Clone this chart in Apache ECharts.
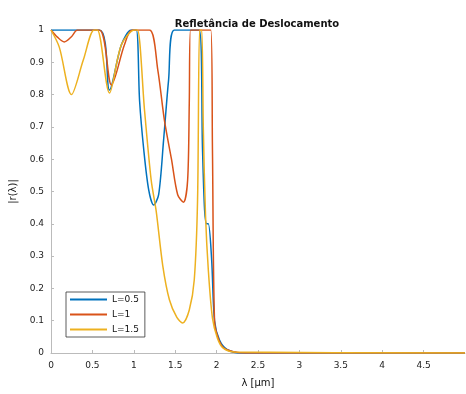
<!DOCTYPE html>
<html>
<head>
<meta charset="utf-8">
<script src="https://cdn.jsdelivr.net/npm/echarts@6/dist/echarts.min.js"></script>
<style>html,body{margin:0;padding:0;background:#fff;}#c{width:466px;height:394px;}</style>
</head>
<body>
<div id="c"></div>
<script>
// ---- data ----
var seriesNames = ['L=0.5', 'L=1', 'L=1.5'];
var xTicks = [0, 0.5, 1, 1.5, 2, 2.5, 3, 3.5, 4, 4.5, 5];
var yTicks = [0, 0.1, 0.2, 0.3, 0.4, 0.5, 0.6, 0.7, 0.8, 0.9, 1];

var lambdaBlue = [0, 0.585, 0.706, 0.85, 0.97, 1.03, 1.07, 1.12, 1.18, 1.24, 1.30, 1.36, 1.42, 1.49, 1.79, 1.83, 1.855, 1.88, 1.90, 1.94, 1.975, 2.035, 2.13, 2.3, 5];
var rBlue      = [1, 1, 0.814, 0.954, 1, 1, 0.78, 0.63, 0.505, 0.458, 0.49, 0.66, 0.845, 1, 1, 0.63, 0.443, 0.40, 0.40, 0.29, 0.10, 0.04, 0.01, 0, 0];

var lambdaOrange = [0, 0.077, 0.16, 0.25, 0.32, 0.585, 0.73, 0.887, 0.98, 1.19, 1.29, 1.37, 1.455, 1.53, 1.60, 1.65, 1.67, 1.685, 1.93, 1.95, 1.975, 2.02, 2.09, 2.22, 2.35, 5];
var rOrange      = [1, 0.978, 0.963, 0.98, 1, 1, 0.83, 0.954, 1, 1, 0.876, 0.72, 0.6, 0.49, 0.467, 0.535, 0.774, 1, 1, 0.63, 0.10, 0.046, 0.015, 0.003, 0, 0];

var lambdaYellow = [0, 0.10, 0.247, 0.39, 0.52, 0.56, 0.706, 0.85, 1.01, 1.044, 1.13, 1.21, 1.27, 1.35, 1.43, 1.52, 1.59, 1.67, 1.73, 1.77, 1.795, 1.82, 1.84, 1.866, 1.90, 1.95, 2.01, 2.08, 2.22, 5];
var rYellow      = [1, 0.947, 0.80, 0.907, 1, 1, 0.805, 0.954, 1, 1, 0.75, 0.535, 0.44, 0.27, 0.165, 0.11, 0.093, 0.133, 0.226, 0.474, 1, 1, 0.69, 0.427, 0.257, 0.108, 0.046, 0.015, 0.003, 0];

var colors = ['#0072BD', '#D95319', '#EDB120'];

function zip(xs, ys) { return xs.map(function (x, i) { return [x, ys[i]]; }); }
var lambdas = [lambdaBlue, lambdaOrange, lambdaYellow];
var rs = [rBlue, rOrange, rYellow];

var chart = echarts.init(document.getElementById('c'));
var series = seriesNames.map(function (n, i) {
  return {
    name: n, type: 'line', data: zip(lambdas[i], rs[i]),
    showSymbol: false, smooth: 0.3, clip: true,
    lineStyle: { color: colors[i], width: 1.5 }, itemStyle: { color: colors[i] }
  };
});

chart.setOption({
  animation: false,
  backgroundColor: '#fff',
  title: {
    text: 'Refletância de Deslocamento', left: 252, top: 14, textAlign: 'center',
    textStyle: { fontFamily: 'DejaVu Sans', fontSize: 10, fontWeight: 'bold', color: '#111' }
  },
  grid: { left: 51, right: 1, top: 30, bottom: 41 },
  legend: {
    orient: 'vertical', left: 66, top: 292,
    data: seriesNames, icon: 'rect', itemWidth: 37, itemHeight: 2, itemGap: 6,
    padding: [3, 6, 3, 4], borderColor: '#333', borderWidth: 0.8, backgroundColor: '#fff',
    textStyle: { fontFamily: 'DejaVu Sans', fontSize: 9, color: '#111' }
  },
  xAxis: {
    type: 'value', min: 0, max: 5, interval: 0.5,
    name: 'λ [μm]', nameLocation: 'middle', nameGap: 25,
    nameTextStyle: { fontFamily: 'DejaVu Sans', fontSize: 10, color: '#111' },
    axisLine: { show: true, lineStyle: { color: '#bbb' } },
    axisTick: { show: true, inside: true, length: 3, lineStyle: { color: '#bbb' } },
    splitLine: { show: false },
    axisLabel: {
      showMaxLabel: false, fontFamily: 'DejaVu Sans', fontSize: 9, color: '#222', margin: 8,
      formatter: function (v) { return xTicks.indexOf(v) >= 0 ? String(v) : ''; }
    }
  },
  yAxis: {
    type: 'value', min: 0, max: 1, interval: 0.1,
    name: '|r(λ)|', nameLocation: 'middle', nameGap: 28,
    nameTextStyle: { fontFamily: 'DejaVu Sans', fontSize: 10, color: '#111' },
    axisLine: { show: true, lineStyle: { color: '#bbb' } },
    axisTick: { show: true, inside: true, length: 3, lineStyle: { color: '#bbb' } },
    splitLine: { show: false },
    axisLabel: {
      fontFamily: 'DejaVu Sans', fontSize: 9, color: '#222', margin: 7,
      formatter: function (v) {
        var t = yTicks.filter(function (y) { return Math.abs(y - v) < 1e-9; });
        return t.length ? String(Math.round(t[0] * 10) / 10) : '';
      }
    }
  },
  series: series
});
</script>
</body>
</html>
